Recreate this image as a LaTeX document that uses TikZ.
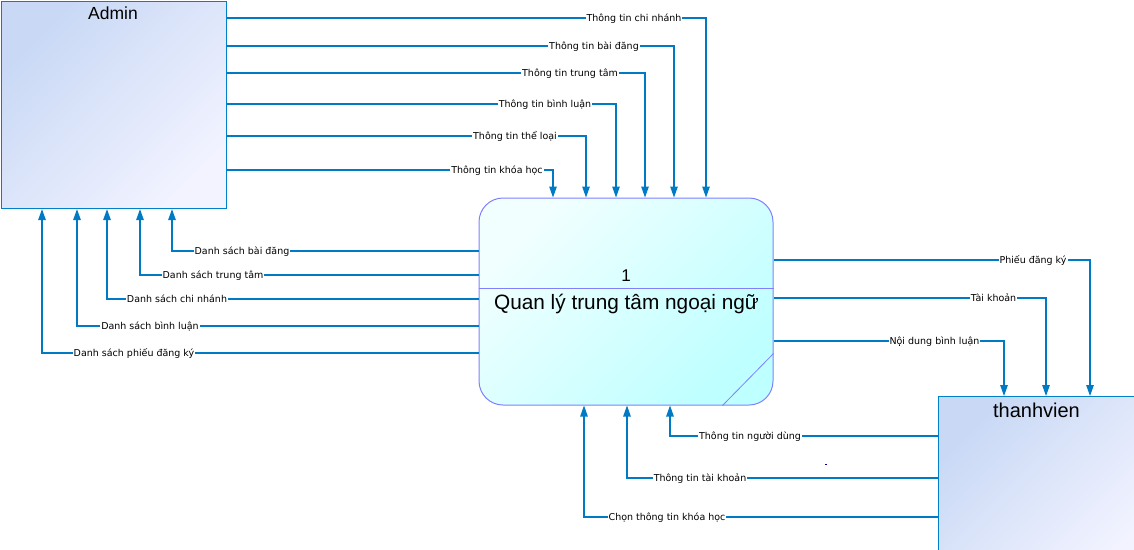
\documentclass[tikz,border=0pt]{standalone}
\usepackage{fontspec}
\setmainfont{DejaVu Sans}
\newfontfamily\titlefont{Liberation Sans}
\usetikzlibrary{arrows.meta,calc,shadings}
\definecolor{flowc}{RGB}{0,122,196}
\definecolor{procborder}{RGB}{128,128,255}
\definecolor{entborder}{RGB}{0,128,200}
\definecolor{entA}{RGB}{200,216,245}
\definecolor{entB}{RGB}{242,243,255}
\definecolor{procA}{RGB}{242,255,255}
\definecolor{procB}{RGB}{190,255,255}
\begin{document}
\begin{tikzpicture}[x=1pt,y=-1pt,
  flow/.style={draw=flowc, line width=1.2pt, -{Triangle[length=11pt,width=7.5pt]}},
  lbl/.style={fill=white, inner sep=1pt, anchor=base, text=black, font=\fontsize{9.5}{10}\selectfont},
  entity/.style={draw=entborder, line width=1.3pt, top color=entA, bottom color=entB, shading angle=45, anchor=north west, inner sep=0pt},
  proc/.style={draw=procborder, line width=1pt, rounded corners=24pt, top color=procA, bottom color=procB, shading angle=45, inner sep=0pt},
  ttl/.style={anchor=base, text=black}]
\clip (0,0) rectangle (1134,549);
% boxes
\node[entity, minimum width=225, minimum height=207] (admin) at (0.75,0.75) {};
\node[ttl, font=\titlefont\fontsize{17.5}{20}\selectfont] (admint) at (113,19) {Admin};
\node[entity, minimum width=215, minimum height=170] (tv) at (938,396) {};
\node[ttl, font=\titlefont\fontsize{20}{22}\selectfont] (tvt) at (1036.5,417) {thanhvien};
\node[proc, minimum width=294, minimum height=207] (proc) at (626,301.5) {};
\draw[procborder, line width=1pt] (proc.west |- 0,288) -- (proc.east |- 0,288);
\draw[procborder, line width=0.8pt] ($(proc.south east)+(0,-52)$) -- ($(proc.south east)+(-51,0)$);
\node[ttl, font=\titlefont\fontsize{17}{20}\selectfont] (pnum) at (626,281) {1};
\node[ttl, font=\titlefont\fontsize{20.8}{22}\selectfont] (pname) at (626.5,309) {Quan lý trung tâm ngoại ngữ};
% Admin -> process
\draw[flow] (admin.east |- 0,18) -| (proc.north -| 706,0);
\draw[flow] (admin.east |- 0,46) -| (proc.north -| 674,0);
\draw[flow] (admin.east |- 0,73) -| (proc.north -| 645,0);
\draw[flow] (admin.east |- 0,104) -| (proc.north -| 616,0);
\draw[flow] (admin.east |- 0,136) -| (proc.north -| 586,0);
\draw[flow] (admin.east |- 0,170) -| (proc.north -| 553,0);
% process -> Admin
\draw[flow] (proc.west |- 0,251) -| (admin.south -| 172,0);
\draw[flow] (proc.west |- 0,275) -| (admin.south -| 140,0);
\draw[flow] (proc.west |- 0,299) -| (admin.south -| 107,0);
\draw[flow] (proc.west |- 0,326) -| (admin.south -| 77,0);
\draw[flow] (proc.west |- 0,353) -| (admin.south -| 42,0);
% process -> thanhvien
\draw[flow] (proc.east |- 0,260) -| (tv.north -| 1090,0);
\draw[flow] (proc.east |- 0,298) -| (tv.north -| 1046,0);
\draw[flow] (proc.east |- 0,341) -| (tv.north -| 1004,0);
% thanhvien -> process
\draw[flow] (tv.west |- 0,436) -| (proc.south -| 670,0);
\draw[flow] (tv.west |- 0,478) -| (proc.south -| 627,0);
\draw[flow] (tv.west |- 0,517) -| (proc.south -| 584,0);
% labels
\node[lbl] (l1) at (634,21) {Thông tin chi nhánh};
\node[lbl] (l2) at (594,49) {Thông tin bài đăng};
\node[lbl] (l3) at (570,76) {Thông tin trung tâm};
\node[lbl] (l4) at (545,107) {Thông tin bình luận};
\node[lbl] (l5) at (515,139) {Thông tin thể loại};
\node[lbl] (l6) at (497,173) {Thông tin khóa học};
\node[lbl] (l7) at (242,254) {Danh sách bài đăng};
\node[lbl] (l8) at (213,278) {Danh sách trung tâm};
\node[lbl] (l9) at (177,302) {Danh sách chi nhánh};
\node[lbl] (l10) at (150,329) {Danh sách bình luận};
\node[lbl] (l11) at (134,356) {Danh sách phiếu đăng ký};
\node[lbl] (l12) at (1033,263) {Phiếu đăng ký};
\node[lbl] (l13) at (993.5,301) {Tài khoản};
\node[lbl] (l14) at (934.5,344) {Nội dung bình luận};
\node[lbl] (l15) at (750,439) {Thông tin người dùng};
\node[lbl] (l16) at (700,481) {Thông tin tài khoản};
\node[lbl] (l17) at (667,520) {Chọn thông tin khóa học};
% stray dot
\fill[blue!60!black] (825,463.5) rectangle (827,465);
\end{tikzpicture}
\end{document}
